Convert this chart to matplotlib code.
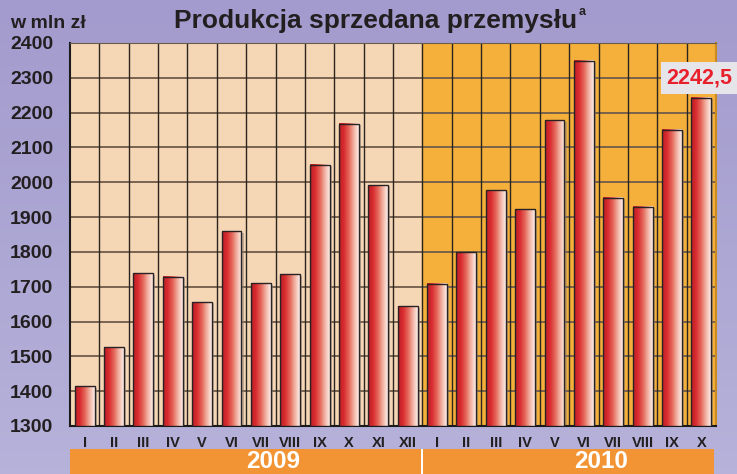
import numpy as np
import matplotlib
matplotlib.use('Agg')
import matplotlib.pyplot as plt
from matplotlib.colors import LinearSegmentedColormap
from matplotlib.patches import Rectangle

plt.rcParams['font.family'] = ['Liberation Sans', 'DejaVu Sans']
plt.rcParams['font.weight'] = 'bold'

months_2009 = ['I', 'II', 'III', 'IV', 'V', 'VI', 'VII', 'VIII', 'IX', 'X', 'XI', 'XII']
months_2010 = ['I', 'II', 'III', 'IV', 'V', 'VI', 'VII', 'VIII', 'IX', 'X']
values_2009 = [1414, 1526, 1738, 1728, 1656, 1859, 1710, 1736, 2050, 2168, 1992, 1644]
values_2010 = [1709, 1799, 1977, 1922, 2178, 2349, 1955, 1930, 2151, 2242.5]
last_label = '2242,5'

labels = months_2009 + months_2010
values = values_2009 + values_2010
n09 = len(values_2009)
x = np.arange(len(values))

W, H = 737, 474
fig = plt.figure(figsize=(W / 100, H / 100), dpi=100)

# background gradient
bg = fig.add_axes([0, 0, 1, 1], zorder=-10)
bg_cmap = LinearSegmentedColormap.from_list('bg', ['#a39bcd', '#b6b2da'])
bg.imshow(np.linspace(0, 1, 100).reshape(-1, 1), aspect='auto', cmap=bg_cmap,
          extent=[0, 1, 0, 1], origin='upper')
bg.axis('off')

ax = fig.add_axes([70 / W, 1 - 426 / H, 646 / W, 383 / H])

# year backgrounds
ax.axvspan(-0.5, n09 - 0.5, color='#f5d7b6', zorder=0)
ax.axvspan(n09 - 0.5, len(values) - 0.5, color='#f4b03b', zorder=0)

# grid
for yv in range(1300, 2401, 100):
    ax.axhline(yv, color='#6e5c4a', lw=1.3, zorder=1)
for xv in np.arange(0.5, len(values) - 0.5, 1):
    ax.axvline(xv, color='#2b2520', lw=1.0, zorder=1)

bar_cmap = LinearSegmentedColormap.from_list(
    'bar', ['#b81e24', '#da2c30', '#e4675a', '#f1b3a3', '#fdf0ea'])
grad = np.linspace(0, 1, 200).reshape(1, -1)
bw = 0.68
for xi, v in zip(x, values):
    # shadow
    ax.add_patch(Rectangle((xi - bw / 2 + 0.07, 1300), bw, v - 1300 - 4,
                           facecolor='#8a7f7a', alpha=0.5, edgecolor='none', zorder=2))
    ax.imshow(grad, aspect='auto', cmap=bar_cmap, zorder=3,
              extent=[xi - bw / 2, xi + bw / 2, 1300, v])
    ax.add_patch(Rectangle((xi - bw / 2, 1300), bw, v - 1300, facecolor='none',
                           edgecolor='#2a2222', lw=1.0, zorder=4))

ax.set_xlim(-0.5, len(values) - 0.5)
ax.set_ylim(1300, 2400)

ax.set_xticks(x)
ax.set_xticklabels(labels, fontsize=10.5, fontweight='bold', color='#231f20')
ax.set_yticks(range(1300, 2401, 100))
ax.set_yticklabels([str(v) for v in range(1300, 2401, 100)], fontsize=14,
                   fontweight='bold', color='#231f20')
ax.tick_params(axis='both', length=0)
ax.tick_params(axis='x', pad=7)
ax.tick_params(axis='y', pad=12)
for side in ['left', 'bottom']:
    ax.spines[side].set_color('#1a1a1a')
    ax.spines[side].set_linewidth(1.5)
ax.spines['top'].set_color('#6e5c4a')
ax.spines['right'].set_color('#c98a20')
ax.spines['right'].set_linewidth(1.5)

# bottom year band
band_top = 1 - 449 / H
fig.patches.append(Rectangle((70 / W, 0), 644 / W, band_top, transform=fig.transFigure,
                             facecolor='#f29433', edgecolor='none', zorder=1))
fig.patches.append(Rectangle((421 / W, 0), 2 / W, band_top, transform=fig.transFigure,
                             facecolor='white', edgecolor='none', zorder=2))
fig.text(273 / W, 1 - 462 / H, '2009', color='white', fontsize=17.5, fontweight='bold',
         ha='center', va='center', zorder=3)
fig.text(601 / W, 1 - 462 / H, '2010', color='white', fontsize=17.5, fontweight='bold',
         ha='center', va='center', zorder=3)

# titles
fig.text(376 / W, 1 - 21 / H, 'Produkcja sprzedana przemysłu',
         fontsize=19, fontweight='bold', color='#231f20', ha='center', va='center')
fig.text(579 / W, 1 - 12 / H, 'a', fontsize=9, fontweight='bold', color='#231f20',
         ha='left', va='center')
fig.text(10 / W, 1 - 23 / H, 'w mln zł', fontsize=14, fontweight='bold',
         color='#231f20', ha='left', va='center')

# value label for the last bar
fig.text(699 / W, 1 - 78 / H, last_label, fontsize=15.5, fontweight='bold', color='#e8202c',
         ha='center', va='center',
         bbox=dict(boxstyle='square,pad=0.25', facecolor='#e6e6ea', edgecolor='none'))

fig.savefig('out.png', dpi=100)
